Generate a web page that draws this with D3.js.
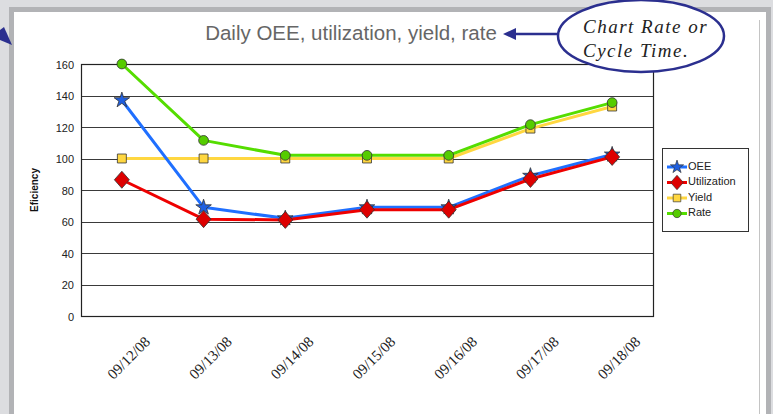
<!DOCTYPE html>
<html>
<head>
<meta charset="utf-8">
<script src="https://cdn.jsdelivr.net/npm/d3@7"></script>
<style>
  body { margin: 0; background: #dcdde0; }
  svg { display: block; }
</style>
</head>
<body>
<div id="chart"></div>
<script>
// chart data
const dates = ['09/12/08', '09/13/08', '09/14/08', '09/15/08', '09/16/08', '09/17/08', '09/18/08'];
const oee = [137, 69, 62, 69, 69, 89, 102.5];
const utilization = [86.5, 61.5, 61, 67.5, 67.5, 87, 101];
const yieldVals = [100, 100, 100, 100, 100, 119, 133];
const rate = [160, 111.5, 102, 102, 102, 121.5, 135.5];
const yTicks = [0, 20, 40, 60, 80, 100, 120, 140, 160];

const series = [
  { name: 'OEE', values: oee, color: '#1f6fff', marker: 'star', fill: '#1f5fe0' },
  { name: 'Utilization', values: utilization, color: '#ee0000', marker: 'diamond', fill: '#dd0000' },
  { name: 'Yield', values: yieldVals, color: '#ffd740', marker: 'square', fill: '#ffd740' },
  { name: 'Rate', values: rate, color: '#55dd00', marker: 'circle', fill: '#55cc00' }
];

const width = 773, height = 414;
const plot = { left: 81, right: 653, top: 64, bottom: 316 };

const svg = d3.select('#chart').append('svg')
  .attr('width', width)
  .attr('height', height);

// slide frame
svg.append('rect').attr('x', 0).attr('y', 0).attr('width', width).attr('height', height).attr('fill', '#dcdde0');
svg.append('rect').attr('x', 9).attr('y', 7).attr('width', 762).attr('height', 420).attr('fill', '#b2b3b6');
svg.append('rect').attr('x', 14).attr('y', 12).attr('width', 752).attr('height', 420).attr('fill', '#ffffff');
svg.append('line').attr('x1', 759.5).attr('x2', 759.5).attr('y1', 20).attr('y2', 414)
  .attr('stroke', '#c4c4c4').attr('stroke-width', 1);

const x = d3.scalePoint().domain(dates).range([plot.left, plot.right]).padding(0.5);
const y = d3.scaleLinear().domain([0, 160]).range([plot.bottom, plot.top]);

// gridlines
svg.append('g')
  .selectAll('line')
  .data(yTicks.filter(d => d > 0))
  .enter().append('line')
  .attr('x1', plot.left).attr('x2', plot.right)
  .attr('y1', d => Math.round(y(d)) + 0.5).attr('y2', d => Math.round(y(d)) + 0.5)
  .attr('stroke', '#3a3a3a').attr('stroke-width', 1.2);

// plot border
svg.append('rect')
  .attr('x', plot.left + 0.5).attr('y', plot.top + 0.5)
  .attr('width', plot.right - plot.left).attr('height', plot.bottom - plot.top)
  .attr('fill', 'none').attr('stroke', '#222').attr('stroke-width', 1.2);

// y axis
const yAxis = d3.axisLeft(y).tickValues(yTicks).tickSize(0).tickPadding(7);
const yg = svg.append('g').attr('transform', `translate(${plot.left},0.5)`).call(yAxis);
yg.select('.domain').remove();
yg.selectAll('text')
  .attr('font-family', '"Liberation Sans Narrow", "Liberation Sans", Arial, sans-serif')
  .attr('font-size', 11).attr('fill', '#222');

svg.append('text')
  .attr('transform', `translate(38,${(plot.top + plot.bottom) / 2}) rotate(-90)`)
  .attr('text-anchor', 'middle')
  .attr('font-family', '"Liberation Sans", Arial, sans-serif')
  .attr('font-size', 10).attr('font-weight', 'bold').attr('fill', '#111')
  .text('Eficiency');

// x labels rotated
svg.append('g')
  .selectAll('text')
  .data(dates)
  .enter().append('text')
  .attr('transform', d => `translate(${x(d) + 8},${359}) rotate(-45)`)
  .attr('text-anchor', 'middle')
  .attr('dominant-baseline', 'middle')
  .attr('font-family', '"Liberation Serif", "Times New Roman", serif')
  .attr('font-size', 15).attr('fill', '#222')
  .text(d => d);

// lines
const line = d3.line().x((d, i) => x(dates[i])).y(d => y(d));
const drawOrder = [series[2], series[3], series[0], series[1]];
svg.append('g')
  .selectAll('path')
  .data(drawOrder)
  .enter().append('path')
  .attr('d', s => line(s.values))
  .attr('fill', 'none')
  .attr('stroke', s => s.color)
  .attr('stroke-width', 3)
  .attr('stroke-linejoin', 'round');

// markers
const symbolFor = {
  star: () => d3.symbol().type(d3.symbolStar).size(75)(),
  diamond: () => 'M0,-8.5L7.5,0L0,8.5L-7.5,0Z',
  square: () => d3.symbol().type(d3.symbolSquare).size(80)(),
  circle: () => d3.symbol().type(d3.symbolCircle).size(75)()
};

drawOrder.forEach(s => {
  svg.append('g')
    .selectAll('path')
    .data(s.values)
    .enter().append('path')
    .attr('d', symbolFor[s.marker]())
    .attr('transform', (d, i) => `translate(${x(dates[i])},${y(d)})`)
    .attr('fill', s.fill)
    .attr('stroke', '#333')
    .attr('stroke-width', 0.8);
});

// legend
const legend = svg.append('g').attr('transform', 'translate(662,148)');
legend.append('rect')
  .attr('x', 0.5).attr('y', 0.5).attr('width', 86).attr('height', 83)
  .attr('fill', '#fff').attr('stroke', '#333');
const item = legend.selectAll('g.item')
  .data(series)
  .enter().append('g')
  .attr('class', 'item')
  .attr('transform', (d, i) => `translate(0,${19 + i * 15.5})`);
item.append('line')
  .attr('x1', 5).attr('x2', 25).attr('y1', 0).attr('y2', 0)
  .attr('stroke', d => d.color).attr('stroke-width', 3);
item.append('path')
  .attr('d', d => symbolFor[d.marker]())
  .attr('transform', 'translate(15,0) scale(0.85)')
  .attr('fill', d => d.fill).attr('stroke', '#333').attr('stroke-width', 0.8);
item.append('text')
  .attr('x', 26).attr('y', 0)
  .attr('dominant-baseline', 'middle')
  .attr('font-family', '"Liberation Sans Narrow", "Liberation Sans", Arial, sans-serif')
  .attr('font-size', 11).attr('fill', '#222')
  .text(d => d.name);

// title
svg.append('text')
  .attr('x', 351).attr('y', 40)
  .attr('text-anchor', 'middle')
  .attr('font-family', '"Liberation Sans", Arial, sans-serif')
  .attr('font-size', 20.5).attr('fill', '#666')
  .text('Daily OEE, utilization, yield, rate');

// callout ellipse with arrow
const navy = '#2b2f8f';
svg.append('line')
  .attr('x1', 558).attr('x2', 512).attr('y1', 34).attr('y2', 34)
  .attr('stroke', navy).attr('stroke-width', 2.5);
svg.append('path')
  .attr('d', 'M503,34 L516,28 L516,40 Z')
  .attr('fill', navy);
svg.append('ellipse')
  .attr('cx', 641).attr('cy', 36).attr('rx', 83).attr('ry', 36)
  .attr('fill', '#fff').attr('stroke', navy).attr('stroke-width', 2.5);
svg.append('text')
  .attr('x', 583).attr('y', 33)
  .attr('font-family', '"Liberation Serif", "Times New Roman", serif')
  .attr('font-style', 'italic').attr('font-size', 19).attr('fill', '#222')
  .attr('letter-spacing', 1.5)
  .text('Chart Rate or');
svg.append('text')
  .attr('x', 583).attr('y', 57)
  .attr('font-family', '"Liberation Serif", "Times New Roman", serif')
  .attr('font-style', 'italic').attr('font-size', 19).attr('fill', '#222')
  .attr('letter-spacing', 1.5)
  .text('Cycle Time.');

// arrowhead at the left edge
svg.append('path')
  .attr('d', 'M0,30 L4,27 L12,45 L0,40 Z')
  .attr('fill', navy);
</script>
</body>
</html>
